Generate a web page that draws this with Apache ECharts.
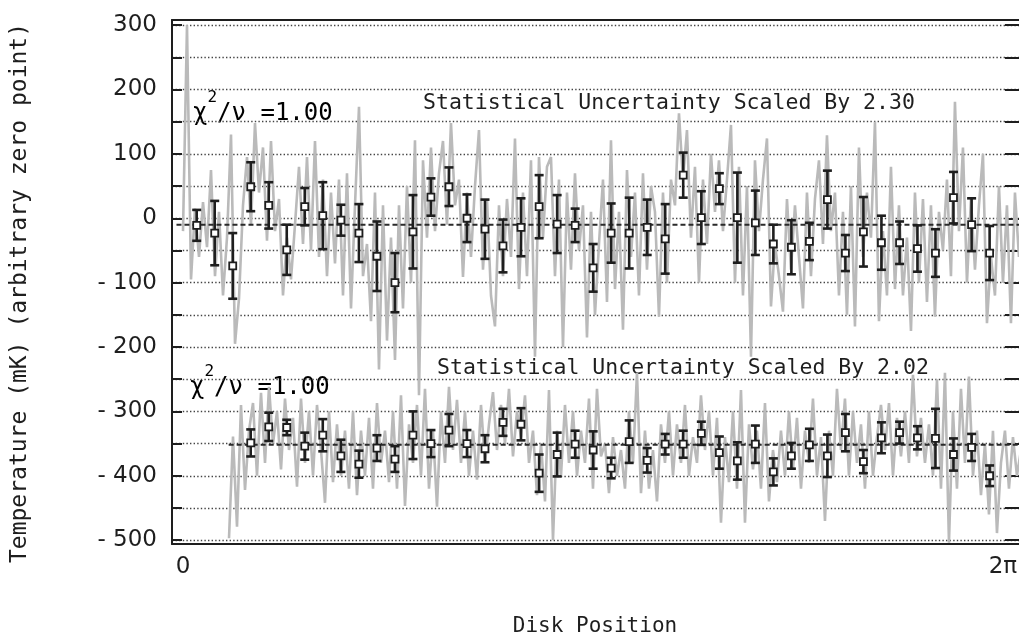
<!DOCTYPE html>
<html>
<head>
<meta charset="utf-8">
<script src="https://cdn.jsdelivr.net/npm/echarts@6/dist/echarts.min.js"></script>
<style>
  html, body { margin: 0; padding: 0; background: #ffffff; }
  #chart { width: 1019px; height: 643px; }
</style>
</head>
<body>
<div id="chart"></div>
<script>
// ---- data ----
const TWO_PI = 2 * Math.PI;
const xLabelValues = [0, TWO_PI];
const xLabelTexts = ['0', '2π'];
const yLabelValues = [-500, -400, -300, -200, -100, 0, 100, 200, 300];
const yTickValues = [-500, -450, -400, -350, -300, -250, -200, -150, -100, -50, 0, 50, 100, 150, 200, 250, 300];

// bin centres (radians) of the averaged points
const binPos = [0.105, 0.243, 0.381, 0.519, 0.657, 0.795, 0.933, 1.071, 1.210, 1.348,
  1.486, 1.624, 1.762, 1.900, 2.038, 2.176, 2.314, 2.452, 2.590, 2.729,
  2.867, 3.005, 3.143, 3.281, 3.419, 3.557, 3.695, 3.833, 3.972, 4.110,
  4.248, 4.386, 4.524, 4.662, 4.800, 4.938, 5.076, 5.214, 5.352, 5.491,
  5.628, 5.766, 5.904, 6.043, 6.181];

// upper run: bin means and scaled uncertainties (mK)
const upperMean = [-11, -23, -74, 49, 20, -49, 18, 4, -3, -23,
  -59, -100, -21, 33, 49, 0, -17, -43, -14, 18,
  -9, -11, -77, -23, -23, -14, -32, 67, 1, 46,
  1, -7, -40, -45, -36, 29, -54, -21, -38, -38,
  -47, -54, 32, -10, -54];
const upperErr = [24, 50, 51, 38, 36, 39, 29, 52, 24, 45,
  54, 46, 57, 29, 30, 37, 46, 41, 45, 49,
  45, 26, 37, 46, 55, 43, 54, 35, 41, 24,
  70, 50, 30, 42, 29, 45, 28, 54, 42, 33,
  36, 37, 40, 41, 42];

// lower run starts at the fourth bin
const lowerPos = binPos.slice(3);
const lowerMean = [-349, -324, -325, -354, -337, -369, -382, -357, -374, -337,
  -350, -329, -350, -358, -317, -320, -396, -367, -351, -360,
  -388, -347, -376, -351, -351, -334, -364, -377, -351, -394,
  -369, -352, -369, -333, -378, -341, -333, -341, -342, -367,
  -356, -400];
const lowerErr = [21, 22, 12, 21, 25, 25, 21, 20, 20, 37,
  21, 25, 21, 21, 21, 25, 29, 34, 21, 29,
  16, 33, 19, 16, 21, 18, 25, 29, 29, 21,
  20, 25, 33, 29, 18, 24, 17, 18, 46, 25,
  21, 16];

// overall levels of each run (dashed lines)
const upperLevel = -10;
const lowerLevel = -352;
const upperLevelSpan = [-0.05, 6.42];
const lowerLevelSpan = [0.35, 6.42];

// raw samples, one every traceStep radians
const traceStep = 0.03065;
const upperTraceStart = 0.0;
const upperTrace = [
  -20, 300, -95, 15, -60, 25,
  -45, 75, -90, 10, -120,
  -30, 130, -195, -125,
  20, 95, -10, 148, 40,
  110, -35, 120, -20,
  30, -120, -30, -95, -10,
  80, -40, 95, -50,
  120, -60, 60, -90, 40,
  -70, 60, -120, 70,
  -140, 20, 173, -90, -40,
  -160, 40, -235, 20,
  -190, -30, -220, 20, -140,
  50, -100, 121, -275,
  90, -30, 110, -20, 70,
  120, -10, 148, 20,
  60, -91, 40, -60, 50,
  137, -80, 30, -120,
  -168, 20, -90, 30, -60,
  124, -110, 40, -90,
  90, -215, 95, -30, 80,
  95, -90, 60, -200,
  40, -80, 70, -50, 20,
  -185, 10, -150, -40,
  60, -130, 121, -110, 10,
  -173, 75, -60, 40,
  -120, 70, -80, 50, 10,
  -153, 40, -100, 60,
  20, 163, 60, 137, -30,
  80, -100, 60, -40,
  100, 10, 90, -20, 60,
  145, -100, 80, -120,
  50, -215, 90, -20, 60,
  124, -137, -40, -90,
  -145, 30, -80, 20, -60,
  -140, 40, -90, 30,
  90, -40, 129, -20, 40,
  -120, 10, -150, 50,
  -168, 110, -60, 40, -30,
  150, -160, -20, -120,
  80, -110, 20, -120, -30,
  -175, 40, -100, 30,
  -130, 20, -153, 10, -50,
  60, -90, 181, -20,
  110, -100, 30, -80, 20,
  100, -163, -60, -120,
  50, -100, 20, -163, 40, -60
];
const lowerTraceStart = 0.3525;
const lowerTrace = [
  -497, -339, -479,
  -290, -422, -330, -287, -400,
  -271, -380, -262, -350,
  -300, -390, -280, -360, -310,
  -417, -280, -380, -300, -400, -290, -360, -442, -300, -410,
  -320, -400, -330, -420, -300, -430, -330, -400, -310, -420,
  -287, -380, -330, -410, -300, -420, -275, -447, -320, -380,
  -290, -400, -265, -420, -330, -448, -300, -380, -262, -360,
  -282, -380, -300, -400, -330, -406, -290, -380, -320, -270,
  -360, -290, -350, -265, -370, -300, -340, -275, -380, -330,
  -430, -350, -440, -267, -500, -330, -400, -290, -380, -300,
  -400, -330, -380, -280, -420, -265, -370, -350, -427, -340,
  -400, -360, -420, -300, -380, -240, -427, -330, -420, -360,
  -440, -320, -380, -300, -400, -320, -380, -290, -400, -340,
  -380, -275, -360, -300, -400, -310, -473, -340, -410, -300,
  -420, -267, -473, -320, -390, -330, -420, -287, -440, -360,
  -410, -330, -400, -300, -390, -310, -420, -330, -380, -280,
  -400, -340, -470, -330, -400, -265, -360, -280, -400, -300,
  -380, -320, -420, -300, -400, -340, -290, -360, -287, -400,
  -310, -370, -300, -380, -243, -370, -310, -380, -320, -400,
  -250, -420, -240, -504, -300, -420, -265, -380, -246, -400,
  -330, -430, -350, -460, -330, -489, -380, -330, -420, -340,
  -400, -360
];

// ---- series data built from the arrays above ----
const upperTraceData = upperTrace.map((v, i) => [upperTraceStart + i * traceStep, v]);
const lowerTraceData = lowerTrace.map((v, i) => [lowerTraceStart + i * traceStep, v]);
const upperBars = binPos.map((x, i) => [x, upperMean[i], upperErr[i]]);
const lowerBars = lowerPos.map((x, i) => [x, lowerMean[i], lowerErr[i]]);

const INK = '#1e1e1e';
const MONO = '"DejaVu Sans Mono"';
const TRACE = '#bababa';

function errorBarItem(params, api) {
  const x = api.value(0), m = api.value(1), e = api.value(2);
  const top = api.coord([x, m + e]);
  const bot = api.coord([x, m - e]);
  const mid = api.coord([x, m]);
  const cap = 4.5, box = 3.5;
  const s = { stroke: INK, lineWidth: 2.6 };
  return {
    type: 'group',
    children: [
      { type: 'line', shape: { x1: top[0], y1: top[1], x2: bot[0], y2: bot[1] }, style: s },
      { type: 'line', shape: { x1: top[0] - cap, y1: top[1], x2: top[0] + cap, y2: top[1] }, style: s },
      { type: 'line', shape: { x1: bot[0] - cap, y1: bot[1], x2: bot[0] + cap, y2: bot[1] }, style: s },
      { type: 'rect', shape: { x: mid[0] - box, y: mid[1] - box, width: 2 * box, height: 2 * box },
        style: { fill: '#ffffff', stroke: INK, lineWidth: 1.8 } }
    ]
  };
}

function yLabel(v) {
  return v < 0 ? '- ' + (-v) : String(v);
}

const chiRich = {
  c: { fontFamily: 'DejaVu Sans Mono', fontSize: 24, color: INK, lineHeight: 36, verticalAlign: 'bottom' },
  s: { fontFamily: 'DejaVu Sans Mono', fontSize: 16, color: INK, lineHeight: 36, verticalAlign: 'top' }
};

const chart = echarts.init(document.getElementById('chart'), null, { renderer: 'canvas' });

chart.setOption({
  animation: false,
  backgroundColor: '#ffffff',
  grid: { left: 172, top: 20, right: -2, bottom: 99, containLabel: false, outerBoundsMode: 'none' },
  xAxis: [
    {
      type: 'value', min: -0.0843, max: 6.4215, position: 'bottom',
      axisLine: { show: true, onZero: false, lineStyle: { color: INK, width: 2 } },
      axisTick: { show: false },
      splitLine: { show: false },
      axisLabel: {
        customValues: xLabelValues,
        formatter: v => xLabelTexts[xLabelValues.findIndex(t => Math.abs(t - v) < 1e-6)] ?? '',
        margin: 12, fontFamily: 'DejaVu Sans', fontSize: 23, color: INK
      }
    },
    {
      type: 'value', min: -0.0843, max: 6.4215, position: 'top',
      axisLine: { show: true, onZero: false, lineStyle: { color: INK, width: 2 } },
      axisTick: { show: false }, axisLabel: { show: false }, splitLine: { show: false }
    }
  ],
  yAxis: [
    {
      type: 'value', min: -506, max: 308, position: 'left',
      axisLine: { show: true, onZero: false, lineStyle: { color: INK, width: 2 } },
      axisTick: { show: true, inside: true, length: 10, customValues: yTickValues,
        lineStyle: { color: INK, width: 2 } },
      axisLabel: { customValues: yLabelValues, formatter: yLabel, margin: 15,
        fontFamily: 'DejaVu Sans', fontSize: 23, color: INK },
      splitLine: { show: true, lineStyle: { color: '#444444', width: 1.4, type: [1.4, 2.2] } }
    },
    {
      type: 'value', min: -506, max: 308, position: 'right',
      axisLine: { show: true, onZero: false, lineStyle: { color: INK, width: 2 } },
      axisTick: { show: true, inside: true, length: 16, customValues: yTickValues,
        lineStyle: { color: INK, width: 2 } },
      axisLabel: { show: false }, splitLine: { show: false }
    }
  ],
  series: [
    {
      type: 'line', data: upperTraceData, showSymbol: false, silent: true,
      lineStyle: { color: TRACE, width: 2.6 }, z: 2
    },
    {
      type: 'line', data: lowerTraceData, showSymbol: false, silent: true,
      lineStyle: { color: TRACE, width: 2.6 }, z: 2
    },
    {
      type: 'line', data: upperLevelSpan.map(x => [x, upperLevel]), showSymbol: false, silent: true,
      lineStyle: { color: '#2a2a2a', width: 2, type: [5, 3] }, z: 3
    },
    {
      type: 'line', data: lowerLevelSpan.map(x => [x, lowerLevel]), showSymbol: false, silent: true,
      lineStyle: { color: '#2a2a2a', width: 2, type: [5, 3] }, z: 3
    },
    { type: 'custom', data: upperBars, renderItem: errorBarItem, z: 5, silent: true },
    { type: 'custom', data: lowerBars, renderItem: errorBarItem, z: 5, silent: true }
  ],
  graphic: [
    { type: 'text', x: 20, y: 293, rotation: Math.PI / 2,
      style: { text: 'Temperature (mK) (arbitrary zero point)', font: '23px ' + MONO,
        fill: INK, align: 'center', verticalAlign: 'middle' } },
    { type: 'text', x: 595, y: 627,
      style: { text: 'Disk Position', font: '21px ' + MONO, fill: INK,
        align: 'center', verticalAlign: 'middle' } },
    { type: 'text', x: 423, y: 103,
      style: { text: 'Statistical Uncertainty Scaled By 2.30', font: '21.5px ' + MONO, fill: INK,
        align: 'left', verticalAlign: 'middle' } },
    { type: 'text', x: 437, y: 368,
      style: { text: 'Statistical Uncertainty Scaled By 2.02', font: '21.5px ' + MONO, fill: INK,
        align: 'left', verticalAlign: 'middle' } },
    { type: 'text', x: 193, y: 108,
      style: { text: '{c|χ}{s|2}{c|/ν =1.00}', align: 'left', verticalAlign: 'middle', rich: chiRich } },
    { type: 'text', x: 190, y: 382,
      style: { text: '{c|χ}{s|2}{c|/ν =1.00}', align: 'left', verticalAlign: 'middle', rich: chiRich } }
  ]
});
</script>
</body>
</html>
